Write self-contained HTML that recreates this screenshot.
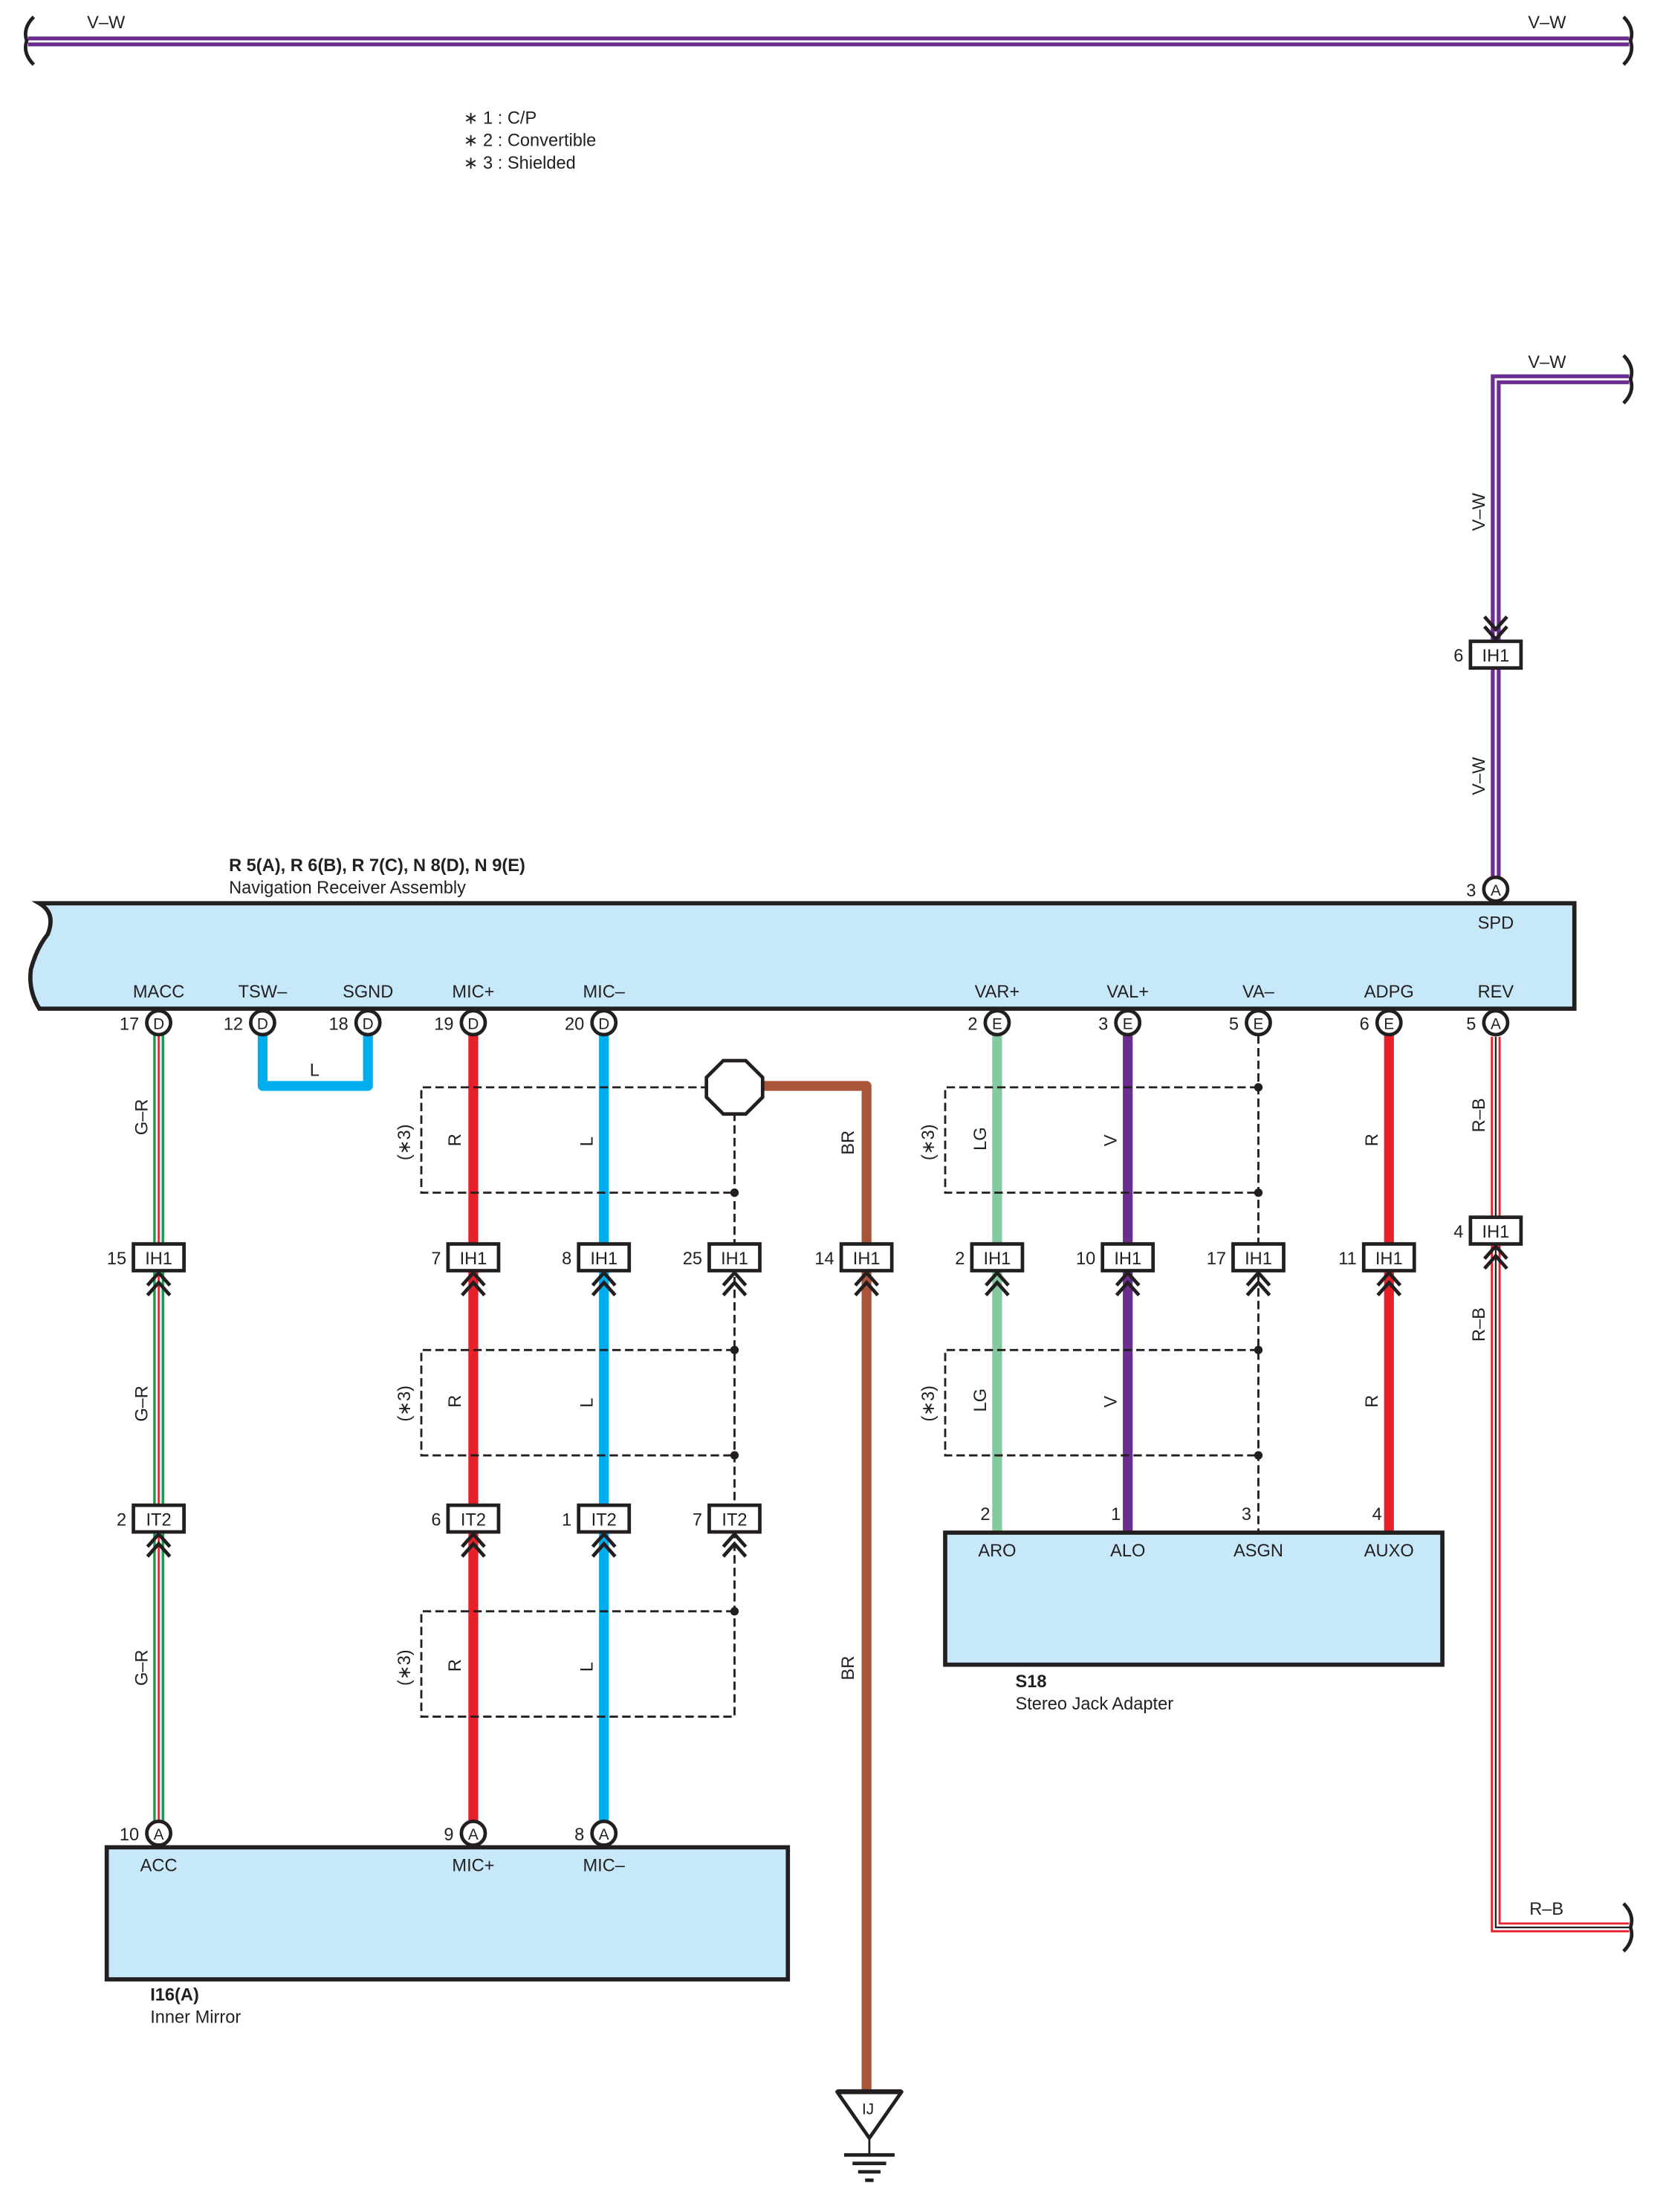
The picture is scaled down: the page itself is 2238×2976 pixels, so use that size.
<!DOCTYPE html>
<html><head><meta charset="utf-8"><style>
html,body{margin:0;padding:0;background:#fff}
svg{display:block}
text{font-family:"Liberation Sans",sans-serif;font-size:12.5px;fill:#231f20}
.b{font-weight:bold}
.m{text-anchor:middle}
.e{text-anchor:end}
</style></head><body>
<svg width="2238" height="2976" viewBox="0 0 1184.1 1574.6" preserveAspectRatio="none" xmlns="http://www.w3.org/2000/svg">
<defs>
<g id="chu" fill="none" stroke="#231f20" stroke-width="2.5"><polyline points="-8,20 0,11 8,20"/><polyline points="-8,27 0,18 8,27"/></g>
<g id="chd" fill="none" stroke="#231f20" stroke-width="2.5"><polyline points="-8,-20 0,-11 8,-20"/><polyline points="-8,-27 0,-18 8,-27"/></g>
<rect id="cb" x="-18" y="-9.5" width="36" height="19" fill="#fff" stroke="#231f20" stroke-width="2.5"/>
<circle id="cc" r="8.5" fill="#fff" stroke="#231f20" stroke-width="2.5"/>
</defs>

<!-- top bus -->
<line x1="20" y1="29.5" x2="1160" y2="29.5" stroke="#6b2d8f" stroke-width="7"/>
<line x1="20" y1="29.5" x2="1160" y2="29.5" stroke="#fff" stroke-width="1.5"/>
<path d="M24 12 Q16 20 19 29 Q16 38 24 46" fill="none" stroke="#231f20" stroke-width="2.5"/>
<path d="M1156 12 Q1164 20 1161 29 Q1164 38 1156 46" fill="none" stroke="#231f20" stroke-width="2.5"/>
<text x="62" y="20">V–W</text><text x="1088" y="20">V–W</text>

<text x="330" y="88">∗ 1 : C/P</text>
<text x="330" y="104">∗ 2 : Convertible</text>
<text x="330" y="120">∗ 3 : Shielded</text>

<!-- right V-W -->
<path d="M1160 270 H1065 V630" fill="none" stroke="#6b2d8f" stroke-width="7"/>
<path d="M1160 270 H1065 V630" fill="none" stroke="#fff" stroke-width="1.5"/>
<path d="M1156 253 Q1164 261 1161 270 Q1164 279 1156 287" fill="none" stroke="#231f20" stroke-width="2.5"/>
<text x="1088" y="262">V–W</text>
<text transform="translate(1057,378) rotate(-90)">V–W</text>
<text transform="translate(1057,566) rotate(-90)">V–W</text>
<use href="#chd" x="1065" y="466"/>
<use href="#cb" x="1065" y="466"/><text class="m" x="1065" y="471">IH1</text><text class="e" x="1042" y="471">6</text>

<!-- main box -->
<path d="M28 643 H1121 V718 H28 Q20 705 22 690 Q26 675 34 665 Q40 650 28 643 Z" fill="#c7e8f9" stroke="#231f20" stroke-width="3"/>
<text class="b" x="163" y="620">R 5(A), R 6(B), R 7(C), N 8(D), N 9(E)</text>
<text x="163" y="636">Navigation Receiver Assembly</text>
<text class="m" x="1065" y="661">SPD</text>
<use href="#cc" x="1065" y="633"/><text class="m" x="1065" y="637.5" style="font-size:11px">A</text><text class="e" x="1051" y="638">3</text>

<g class="m">
<text class="m" x="113" y="710">MACC</text><text class="m" x="187" y="710">TSW–</text><text class="m" x="262" y="710">SGND</text>
<text class="m" x="337" y="710">MIC+</text><text class="m" x="430" y="710">MIC–</text><text class="m" x="710" y="710">VAR+</text>
<text class="m" x="803" y="710">VAL+</text><text class="m" x="896" y="710">VA–</text><text class="m" x="989" y="710">ADPG</text><text class="m" x="1065" y="710">REV</text>
</g>

<!-- wires -->
<!-- G-R -->
<line x1="113" y1="730" x2="113" y2="1300" stroke="#fff" stroke-width="8"/>
<line x1="110" y1="730" x2="110" y2="1300" stroke="#1a9a4a" stroke-width="1.8"/>
<line x1="116" y1="730" x2="116" y2="1300" stroke="#1a9a4a" stroke-width="1.8"/>
<line x1="113" y1="730" x2="113" y2="1300" stroke="#e8202a" stroke-width="1.4"/>
<text transform="translate(105,808) rotate(-90)">G–R</text>
<text transform="translate(105,1012) rotate(-90)">G–R</text>
<text transform="translate(105,1200) rotate(-90)">G–R</text>
<!-- L loop -->
<path d="M187 735 V773 H262 V735" fill="none" stroke="#00aeef" stroke-width="7" stroke-linejoin="round"/>
<text class="m" x="224" y="766">L</text>
<!-- MIC+ / MIC- -->
<line x1="337" y1="735" x2="337" y2="1298" stroke="#e8202a" stroke-width="7"/>
<line x1="430" y1="735" x2="430" y2="1298" stroke="#00aeef" stroke-width="7"/>
<!-- brown -->
<path d="M535 773 H617 V1490" fill="none" stroke="#a8553a" stroke-width="7" stroke-linejoin="round"/>
<text transform="translate(608,822) rotate(-90)">BR</text>
<text transform="translate(608,1196) rotate(-90)">BR</text>
<!-- right side wires -->
<line x1="710" y1="735" x2="710" y2="1090" stroke="#84c99f" stroke-width="7"/>
<line x1="803" y1="735" x2="803" y2="1090" stroke="#6b2d8f" stroke-width="7"/>
<line x1="989" y1="735" x2="989" y2="1090" stroke="#e8202a" stroke-width="7"/>
<line x1="896" y1="737" x2="896" y2="1090" stroke="#231f20" stroke-width="1.5" stroke-dasharray="6,3"/>
<!-- R-B -->
<path d="M1065 738 V1372 H1160" fill="none" stroke="#e8202a" stroke-width="7"/>
<path d="M1065 738 V1372 H1160" fill="none" stroke="#fff" stroke-width="4"/>
<path d="M1065 738 V1372 H1160" fill="none" stroke="#231f20" stroke-width="1.2"/>
<path d="M1156 1355 Q1164 1363 1161 1372 Q1164 1381 1156 1389" fill="none" stroke="#231f20" stroke-width="2.5"/>
<text transform="translate(1057,806) rotate(-90)">R–B</text>
<text transform="translate(1057,955) rotate(-90)">R–B</text>
<text x="1089" y="1363">R–B</text>

<!-- shields -->
<g fill="none" stroke="#231f20" stroke-width="1.5" stroke-dasharray="6,3">
<path d="M505 774 H300 V849 H523"/>
<path d="M523 961 H300 V1036 H523"/>
<path d="M523 1147 H300 V1222 H523 V1147"/>
<line x1="523" y1="792" x2="523" y2="1147"/>
<path d="M896 774 H673 V849 H896"/>
<path d="M896 961 H673 V1036 H896"/>
</g>
<g fill="#231f20">
<circle cx="523" cy="849" r="3"/><circle cx="523" cy="961" r="3"/><circle cx="523" cy="1036" r="3"/><circle cx="523" cy="1147" r="3"/>
<circle cx="896" cy="774" r="3"/><circle cx="896" cy="849" r="3"/><circle cx="896" cy="961" r="3"/><circle cx="896" cy="1036" r="3"/>
</g>
<polygon points="515,755 531,755 543,767 543,781 531,793 515,793 503,781 503,767" fill="#fff" stroke="#231f20" stroke-width="2.5"/>
<g>
<text transform="translate(292,826) rotate(-90)">(∗3)</text>
<text transform="translate(292,1012) rotate(-90)">(∗3)</text>
<text transform="translate(292,1200) rotate(-90)">(∗3)</text>
<text transform="translate(665,826) rotate(-90)">(∗3)</text>
<text transform="translate(665,1012) rotate(-90)">(∗3)</text>
<text transform="translate(328,816) rotate(-90)">R</text><text transform="translate(328,1002) rotate(-90)">R</text><text transform="translate(328,1190) rotate(-90)">R</text>
<text transform="translate(422,816) rotate(-90)">L</text><text transform="translate(422,1002) rotate(-90)">L</text><text transform="translate(422,1190) rotate(-90)">L</text>
<text transform="translate(702,819) rotate(-90)">LG</text><text transform="translate(702,1005) rotate(-90)">LG</text>
<text transform="translate(795,816) rotate(-90)">V</text><text transform="translate(795,1002) rotate(-90)">V</text>
<text transform="translate(981,816) rotate(-90)">R</text><text transform="translate(981,1002) rotate(-90)">R</text>
</g>

<!-- top connectors -->
<g>
<use href="#cc" x="113" y="728"/><use href="#cc" x="187" y="728"/><use href="#cc" x="262" y="728"/><use href="#cc" x="337" y="728"/><use href="#cc" x="430" y="728"/>
<use href="#cc" x="710" y="728"/><use href="#cc" x="803" y="728"/><use href="#cc" x="896" y="728"/><use href="#cc" x="989" y="728"/><use href="#cc" x="1065" y="728"/>
</g>
<g style="font-size:11px">
<text class="m" x="113" y="732.5" style="font-size:11px">D</text><text class="m" x="187" y="732.5" style="font-size:11px">D</text><text class="m" x="262" y="732.5" style="font-size:11px">D</text><text class="m" x="337" y="732.5" style="font-size:11px">D</text><text class="m" x="430" y="732.5" style="font-size:11px">D</text>
<text class="m" x="710" y="732.5" style="font-size:11px">E</text><text class="m" x="803" y="732.5" style="font-size:11px">E</text><text class="m" x="896" y="732.5" style="font-size:11px">E</text><text class="m" x="989" y="732.5" style="font-size:11px">E</text><text class="m" x="1065" y="732.5" style="font-size:11px">A</text>
</g>
<text class="e" x="99" y="733">17</text><text class="e" x="173" y="733">12</text><text class="e" x="248" y="733">18</text><text class="e" x="323" y="733">19</text><text class="e" x="416" y="733">20</text>
<text class="e" x="696" y="733">2</text><text class="e" x="789" y="733">3</text><text class="e" x="882" y="733">5</text><text class="e" x="975" y="733">6</text><text class="e" x="1051" y="733">5</text>

<!-- IH1 row -->
<g>
<use href="#chu" x="113" y="895"/><use href="#chu" x="337" y="895"/><use href="#chu" x="430" y="895"/><use href="#chu" x="523" y="895"/><use href="#chu" x="617" y="895"/>
<use href="#chu" x="710" y="895"/><use href="#chu" x="803" y="895"/><use href="#chu" x="896" y="895"/><use href="#chu" x="989" y="895"/><use href="#chu" x="1065" y="876"/>
<use href="#cb" x="113" y="895"/><use href="#cb" x="337" y="895"/><use href="#cb" x="430" y="895"/><use href="#cb" x="523" y="895"/><use href="#cb" x="617" y="895"/>
<use href="#cb" x="710" y="895"/><use href="#cb" x="803" y="895"/><use href="#cb" x="896" y="895"/><use href="#cb" x="989" y="895"/><use href="#cb" x="1065" y="876"/>
</g>
<text class="m" x="113" y="900">IH1</text><text class="m" x="337" y="900">IH1</text><text class="m" x="430" y="900">IH1</text><text class="m" x="523" y="900">IH1</text><text class="m" x="617" y="900">IH1</text>
<text class="m" x="710" y="900">IH1</text><text class="m" x="803" y="900">IH1</text><text class="m" x="896" y="900">IH1</text><text class="m" x="989" y="900">IH1</text><text class="m" x="1065" y="881">IH1</text>
<text class="e" x="90" y="900">15</text><text class="e" x="314" y="900">7</text><text class="e" x="407" y="900">8</text><text class="e" x="500" y="900">25</text><text class="e" x="594" y="900">14</text>
<text class="e" x="687" y="900">2</text><text class="e" x="780" y="900">10</text><text class="e" x="873" y="900">17</text><text class="e" x="966" y="900">11</text><text class="e" x="1042" y="881">4</text>

<!-- IT2 row -->
<use href="#chu" x="113" y="1081"/><use href="#chu" x="337" y="1081"/><use href="#chu" x="430" y="1081"/><use href="#chu" x="523" y="1081"/>
<use href="#cb" x="113" y="1081"/><use href="#cb" x="337" y="1081"/><use href="#cb" x="430" y="1081"/><use href="#cb" x="523" y="1081"/>
<text class="m" x="113" y="1086">IT2</text><text class="m" x="337" y="1086">IT2</text><text class="m" x="430" y="1086">IT2</text><text class="m" x="523" y="1086">IT2</text>
<text class="e" x="90" y="1086">2</text><text class="e" x="314" y="1086">6</text><text class="e" x="407" y="1086">1</text><text class="e" x="500" y="1086">7</text>

<!-- S18 -->
<rect x="673" y="1091" width="354" height="94" fill="#c7e8f9" stroke="#231f20" stroke-width="3"/>
<text class="e" x="705" y="1082">2</text><text class="e" x="798" y="1082">1</text><text class="e" x="891" y="1082">3</text><text class="e" x="984" y="1082">4</text>
<text class="m" x="710" y="1108">ARO</text><text class="m" x="803" y="1108">ALO</text><text class="m" x="896" y="1108">ASGN</text><text class="m" x="989" y="1108">AUXO</text>
<text class="b" x="723" y="1201">S18</text><text x="723" y="1217">Stereo Jack Adapter</text>

<!-- Inner Mirror -->
<rect x="76" y="1315" width="485" height="94" fill="#c7e8f9" stroke="#231f20" stroke-width="3"/>
<use href="#cc" x="113" y="1305"/><use href="#cc" x="337" y="1305"/><use href="#cc" x="430" y="1305"/>
<text class="m" x="113" y="1309.5" style="font-size:11px">A</text><text class="m" x="337" y="1309.5" style="font-size:11px">A</text><text class="m" x="430" y="1309.5" style="font-size:11px">A</text>
<text class="e" x="99" y="1310">10</text><text class="e" x="323" y="1310">9</text><text class="e" x="416" y="1310">8</text>
<text class="m" x="113" y="1332">ACC</text><text class="m" x="337" y="1332">MIC+</text><text class="m" x="430" y="1332">MIC–</text>
<text class="b" x="107" y="1424">I16(A)</text><text x="107" y="1440">Inner Mirror</text>

<!-- ground -->
<polygon points="596,1489 642,1489 619,1522" fill="#fff" stroke="#231f20" stroke-width="2.5" stroke-linejoin="round"/>
<line x1="596" y1="1489" x2="642" y2="1489" stroke="#231f20" stroke-width="3.5"/>
<text class="m" x="618" y="1505" style="font-size:11px">IJ</text>
<line x1="619" y1="1522" x2="619" y2="1534" stroke="#231f20" stroke-width="1.5"/>
<g stroke="#231f20" stroke-width="2.5"><line x1="601" y1="1534" x2="637" y2="1534"/><line x1="607" y1="1540" x2="631" y2="1540"/><line x1="611" y1="1546" x2="627" y2="1546"/><line x1="616" y1="1552" x2="622" y2="1552"/></g>
</svg>
</body></html>
